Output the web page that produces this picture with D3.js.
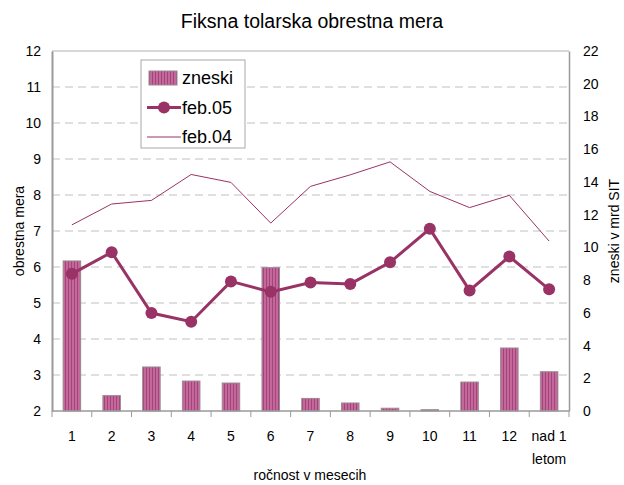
<!DOCTYPE html>
<html>
<head>
<meta charset="utf-8">
<script src="https://cdn.jsdelivr.net/npm/d3@7"></script>
<style>
  html, body { margin: 0; padding: 0; background: #fff; }
  svg { display: block; font-family: "Liberation Sans", Arial, sans-serif; }
</style>
</head>
<body>
<svg id="chart" width="624" height="485"></svg>
<script>
// Maturity buckets (months)
const categories = ["1", "2", "3", "4", "5", "6", "7", "8", "9", "10", "11", "12", "nad 1\nletom"];
// Amounts, billions SIT (right axis)
const zneski = [9.17, 0.94, 2.69, 1.83, 1.71, 8.76, 0.77, 0.49, 0.17, 0.08, 1.77, 3.85, 2.4];
// Interest rates, % (left axis)
const feb05 = [5.81, 6.41, 4.72, 4.48, 5.60, 5.31, 5.57, 5.53, 6.13, 7.06, 5.35, 6.29, 5.38];
const feb04 = [7.17, 7.75, 7.85, 8.57, 8.35, 7.22, 8.24, 8.56, 8.92, 8.10, 7.65, 7.99, 6.72];
const leftTicks = [2, 3, 4, 5, 6, 7, 8, 9, 10, 11, 12];
const rightTicks = [0, 2, 4, 6, 8, 10, 12, 14, 16, 18, 20, 22];

const W = 624, H = 485;
const m = { left: 52, right: 569, top: 51, bottom: 411 };
const plum = "#993366";
const gridGray = "#c0c0c0";
const axisGray = "#9a9a9a";

const svg = d3.select("#chart");

// striped fill for the bars
const defs = svg.append("defs");
const pat = defs.append("pattern")
  .attr("id", "stripes").attr("patternUnits", "userSpaceOnUse")
  .attr("width", 3).attr("height", 4);
pat.append("rect").attr("width", 3).attr("height", 4).attr("fill", "#c4679a");
pat.append("rect").attr("x", 2).attr("width", 1).attr("height", 4).attr("fill", "#a1457a");

const x = d3.scaleBand().domain(d3.range(categories.length)).range([m.left, m.right]);
const yL = d3.scaleLinear().domain([2, 12]).range([m.bottom, m.top]);
const yR = d3.scaleLinear().domain([0, 22]).range([m.bottom, m.top]);

// dashed horizontal gridlines
svg.append("g").selectAll("line").data(leftTicks.filter(d => d > 2 && d < 12)).join("line")
  .attr("x1", m.left).attr("x2", m.right)
  .attr("y1", d => yL(d)).attr("y2", d => yL(d))
  .attr("stroke", gridGray).attr("stroke-width", 1).attr("stroke-dasharray", "8,5");

// plot frame: top edge
svg.append("line").attr("x1", m.left).attr("x2", m.right).attr("y1", m.top).attr("y2", m.top)
  .attr("stroke", "#b0b0b0").attr("stroke-width", 1);

// bars
const barW = x.bandwidth() * 0.44;
svg.append("g").selectAll("rect").data(zneski).join("rect")
  .attr("x", (d, i) => x(i) + (x.bandwidth() - barW) / 2)
  .attr("y", d => yR(d))
  .attr("width", barW)
  .attr("height", d => m.bottom - yR(d))
  .attr("fill", "url(#stripes)")
  .attr("stroke", "#9a8a92").attr("stroke-width", 1);

// left axis
const axL = svg.append("g").attr("transform", `translate(${m.left},0)`)
  .call(d3.axisLeft(yL).tickValues(leftTicks).tickSize(0).tickPadding(11));
axL.select(".domain").attr("stroke", axisGray).attr("stroke-width", 2);
axL.selectAll("text").attr("font-size", 14).attr("fill", "#000")
  .attr("font-family", "Liberation Sans, Arial, sans-serif");

// right axis
const axR = svg.append("g").attr("transform", `translate(${m.right},0)`)
  .call(d3.axisRight(yR).tickValues(rightTicks).tickSize(0).tickPadding(14));
axR.select(".domain").attr("stroke", axisGray).attr("stroke-width", 1.5);
axR.selectAll("text").attr("font-size", 14).attr("fill", "#000")
  .attr("font-family", "Liberation Sans, Arial, sans-serif");

// bottom axis with ticks between categories
svg.append("line").attr("x1", m.left).attr("x2", m.right).attr("y1", m.bottom).attr("y2", m.bottom)
  .attr("stroke", axisGray).attr("stroke-width", 1.5);
const bounds = d3.range(categories.length + 1).map(i => m.left + i * x.step());
svg.append("g").selectAll("line").data(bounds).join("line")
  .attr("x1", d => d).attr("x2", d => d)
  .attr("y1", m.bottom).attr("y2", m.bottom + 6)
  .attr("stroke", axisGray).attr("stroke-width", 1);
const xl = svg.append("g").selectAll("text").data(categories).join("text")
  .attr("x", (d, i) => x(i) + x.bandwidth() / 2)
  .attr("y", 441)
  .attr("text-anchor", "middle").attr("font-size", 14).attr("fill", "#000");
xl.each(function(d) {
  const t = d3.select(this);
  d.split("\n").forEach((s, k) => {
    t.append("tspan").attr("x", t.attr("x")).attr("dy", k === 0 ? 0 : 23).text(s);
  });
});

// feb.04 line
const lineL = d3.line().x((d, i) => x(i) + x.bandwidth() / 2).y(d => yL(d));
svg.append("path").datum(feb04).attr("d", lineL)
  .attr("fill", "none").attr("stroke", plum).attr("stroke-width", 1);

// feb.05 line with markers
svg.append("path").datum(feb05).attr("d", lineL)
  .attr("fill", "none").attr("stroke", plum).attr("stroke-width", 3);
svg.append("g").selectAll("circle").data(feb05).join("circle")
  .attr("cx", (d, i) => x(i) + x.bandwidth() / 2).attr("cy", d => yL(d))
  .attr("r", 6).attr("fill", plum);

// titles
svg.append("text").attr("x", 312).attr("y", 28).attr("text-anchor", "middle")
  .attr("font-size", 19.5).attr("fill", "#000").text("Fiksna tolarska obrestna mera");
svg.append("text").attr("transform", `translate(24,${(m.top + m.bottom) / 2}) rotate(-90)`)
  .attr("text-anchor", "middle").attr("font-size", 14).attr("fill", "#000").text("obrestna mera");
svg.append("text").attr("transform", `translate(619,${(m.top + m.bottom) / 2}) rotate(-90)`)
  .attr("text-anchor", "middle").attr("font-size", 14).attr("fill", "#000").text("zneski v mrd SIT");
svg.append("text").attr("x", 310).attr("y", 480).attr("text-anchor", "middle")
  .attr("font-size", 14).attr("fill", "#000").text("ročnost v mesecih");

// legend
const lg = svg.append("g");
lg.append("rect").attr("x", 141).attr("y", 60).attr("width", 104).attr("height", 88)
  .attr("fill", "#fff").attr("stroke", "#a8a8a8").attr("stroke-width", 1);
const items = [
  { name: "zneski", type: "bar" },
  { name: "feb.05", type: "marker" },
  { name: "feb.04", type: "thin" }
];
items.forEach((it, k) => {
  const cy = 78 + k * 29.5;
  if (it.type === "bar") {
    lg.append("rect").attr("x", 149).attr("y", cy - 7).attr("width", 28).attr("height", 14)
      .attr("fill", "url(#stripes)").attr("stroke", "#9a8a92");
  } else {
    lg.append("line").attr("x1", 147).attr("x2", 181).attr("y1", cy).attr("y2", cy)
      .attr("stroke", plum).attr("stroke-width", it.type === "marker" ? 3 : 1);
    if (it.type === "marker") lg.append("circle").attr("cx", 164).attr("cy", cy).attr("r", 6).attr("fill", plum);
  }
  lg.append("text").attr("x", 182).attr("y", cy + 6).attr("font-size", 18).attr("fill", "#000").text(it.name);
});
</script>
</body>
</html>
